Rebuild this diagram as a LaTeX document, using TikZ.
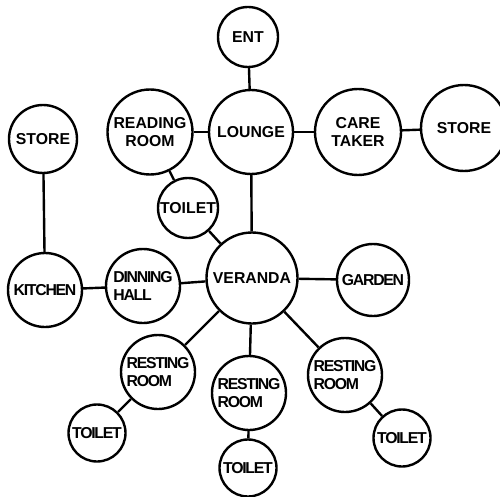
\documentclass[tikz,border=0pt]{standalone}
\usepackage{fontspec}
\setmainfont{Liberation Sans}

\begin{document}
\begin{tikzpicture}[x=1pt, y=-1pt, line width=2.4pt,
    room/.style={circle, draw, inner sep=0pt, align=center,
        font=\bfseries\fontsize{15.8}{17.5}\selectfont},
    tight/.style={room,
        font=\bfseries\fontsize{15.8}{17.5}\selectfont\addfontfeatures{LetterSpace=-8}}]
    \clip (0,0) rectangle (500,497);

    % upper wing
    \node[room, minimum size=60] (ent) at (248,37) {ENT};
    \node[room, minimum size=84] (lounge) at (251,132) {LOUNGE};
    \node[room, minimum size=85] (reading) at (150,132) {READING\\ROOM};
    \node[room, minimum size=86] (caretaker) at (358,132) {CARE\\TAKER};
    \node[room, minimum size=86] (storeR) at (464,128) {STORE};
    \node[room, minimum size=68] (storeL) at (43,139) {STORE};
    \node[room, minimum size=60] (toiletA) at (188,208) {TOILET};

    % middle
    \node[room, minimum size=91] (veranda) at (252,278) {VERANDA};
    \node[tight, minimum size=74, align=left] (dinning) at (143,286) {DINNING\\HALL};
    \node[tight, minimum size=74] (kitchen) at (45,290) {KITCHEN};
    \node[tight, minimum size=72] (garden) at (373,280) {GARDEN};

    % resting rooms with toilets
    \node[tight, minimum size=74, align=left] (restA) at (158,372) {RESTING\\ROOM};
    \node[tight, minimum size=74, align=left] (restB) at (249,393) {RESTING\\ROOM};
    \node[tight, minimum size=74, align=left] (restC) at (345,375) {RESTING\\ROOM};
    \node[tight, minimum size=57] (toiletB) at (97,433) {TOILET};
    \node[tight, minimum size=57] (toiletC) at (248,468) {TOILET};
    \node[tight, minimum size=57] (toiletD) at (402,438) {TOILET};

    % links
    \foreach \a/\b in {ent/lounge, reading/lounge, lounge/caretaker, caretaker/storeR,
        reading/toiletA, toiletA/veranda, lounge/veranda, storeL/kitchen,
        kitchen/dinning, dinning/veranda, veranda/garden, veranda/restA,
        veranda/restB, veranda/restC, restA/toiletB, restB/toiletC, restC/toiletD}
        \draw (\a) -- (\b);
\end{tikzpicture}
\end{document}
